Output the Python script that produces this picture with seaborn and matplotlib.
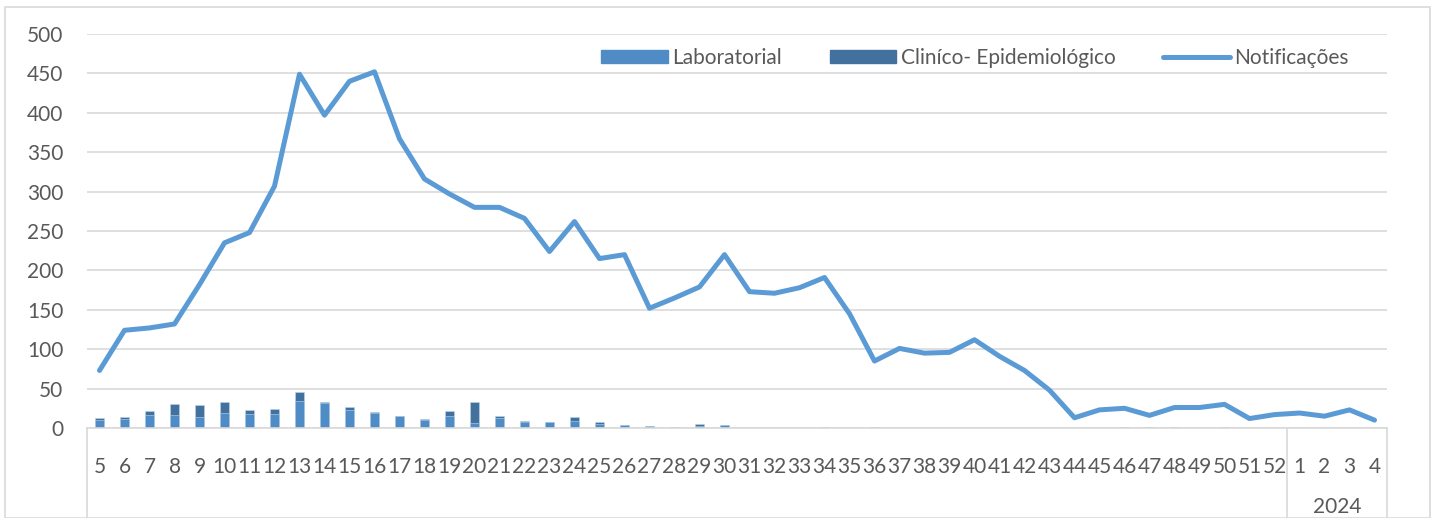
import numpy as np
import pandas as pd
import matplotlib.pyplot as plt
import seaborn as sns
from matplotlib.patches import Patch, Rectangle
from matplotlib.lines import Line2D

sns.set_theme(style="white")
plt.rcParams['font.family'] = ['Lato', 'DejaVu Sans']

# semanas epidemiológicas (2023: 5-52, 2024: 1-4)
semanas = [str(s) for s in range(5, 53)] + ['1', '2', '3', '4']

laboratorial = [10, 11, 16, 16, 14, 19, 18, 18, 34, 32, 23, 19, 15, 10,
                15, 6, 13, 8, 7, 9, 5, 4, 3, 1, 3, 4, 0, 0, 0, 1,
                0, 1, 0, 0, 0, 0, 0, 0, 0, 0, 0, 1, 1, 1, 0, 1,
                0, 0, 0, 0, 0, 0]
clinico = [3, 3, 5, 15, 15, 14, 5, 6, 12, 1, 4, 1, 0, 2,
           7, 27, 2, 1, 0, 5, 2, 0, 0, 0, 2, 0, 0, 0, 0, 0,
           0, 0, 0, 0, 0, 0, 0, 0, 0, 0, 0, 0, 0, 0, 0, 0,
           0, 0, 0, 0, 0, 0]
notificacoes = [73, 124, 127, 132, 182, 235, 248, 307, 449, 397, 440, 452,
                367, 316, 297, 280, 280, 266, 224, 262, 215, 220, 152, 165,
                179, 220, 173, 171, 178, 191, 145, 85, 101, 95, 96, 112,
                91, 73, 48, 13, 23, 25, 16, 26, 26, 30, 12, 17,
                19, 15, 23, 10]

df = pd.DataFrame({
    'semana': semanas,
    'lab': laboratorial,
    'clin': clinico,
    'notif': notificacoes,
})
df['total'] = df['lab'] + df['clin']

cor_lab = '#4F8BC4'
cor_clin = '#41719C'
cor_linha = '#5B9BD5'
cinza = '#D9D9D9'
texto = '#595959'

fig = plt.figure(figsize=(14.35, 5.18), dpi=100)
ax = fig.add_axes([87 / 1435, 90 / 518, 1300 / 1435, 394 / 518])

# barras empilhadas: total (escuro) por baixo, laboratorial por cima
sns.barplot(data=df, x='semana', y='total', order=semanas, color=cor_clin,
            width=0.34, saturation=1, edgecolor='#BDD7EE', linewidth=0.4, ax=ax)
sns.barplot(data=df, x='semana', y='lab', order=semanas, color=cor_lab,
            width=0.34, saturation=1, edgecolor='#BDD7EE', linewidth=0.4, ax=ax)
sns.lineplot(x=np.arange(len(semanas)), y=df['notif'], color=cor_linha,
             linewidth=3.6, ax=ax, zorder=5)

ax.set_xlim(-0.5, len(semanas) - 0.5)
ax.set_ylim(0, 500)
ax.set_yticks(range(0, 501, 50))
ax.yaxis.grid(True, color=cinza, linewidth=1.2)
ax.set_axisbelow(True)
ax.tick_params(axis='y', length=0, pad=17, labelsize=15, labelcolor=texto)
ax.tick_params(axis='x', length=0, pad=21, labelsize=15, labelcolor=texto)
ax.set_xticks(range(len(semanas)))
ax.set_xticklabels(semanas)
ax.set_xlabel('')
ax.set_ylabel('')
for s in ['left', 'right', 'top']:
    ax.spines[s].set_visible(False)
ax.spines['bottom'].set_color(cinza)
ax.spines['bottom'].set_linewidth(1.2)

# separadores de ano abaixo do eixo
tr = ax.get_xaxis_transform()
for xs in [-0.5, 47.5, 51.5]:
    ax.plot([xs, xs], [0, -0.24], color=cinza, linewidth=1.2,
            transform=tr, clip_on=False)
ax.text(49.5, -0.2, '2024', transform=tr, ha='center', va='center',
        fontsize=15, color=texto)

handles = [Patch(facecolor=cor_lab, edgecolor=cor_lab),
           Patch(facecolor=cor_clin, edgecolor=cor_clin),
           Line2D([0], [0], color=cor_linha, linewidth=3.6)]
labels = ['Laboratorial', 'Cliníco- Epidemiológico', 'Notificações']
ax.legend(handles, labels, loc='center', bbox_to_anchor=(0.683, 0.939),
          ncol=3, frameon=False, fontsize=15, labelcolor=texto,
          columnspacing=2.3, handlelength=3.2, handletextpad=0.2,
          handleheight=0.6)

fig.patches.append(Rectangle((5 / 1435, 0), 1425 / 1435, 511 / 518,
                             transform=fig.transFigure, fill=False,
                             edgecolor=cinza, linewidth=1.2))

fig.savefig('out.png', dpi=100)
